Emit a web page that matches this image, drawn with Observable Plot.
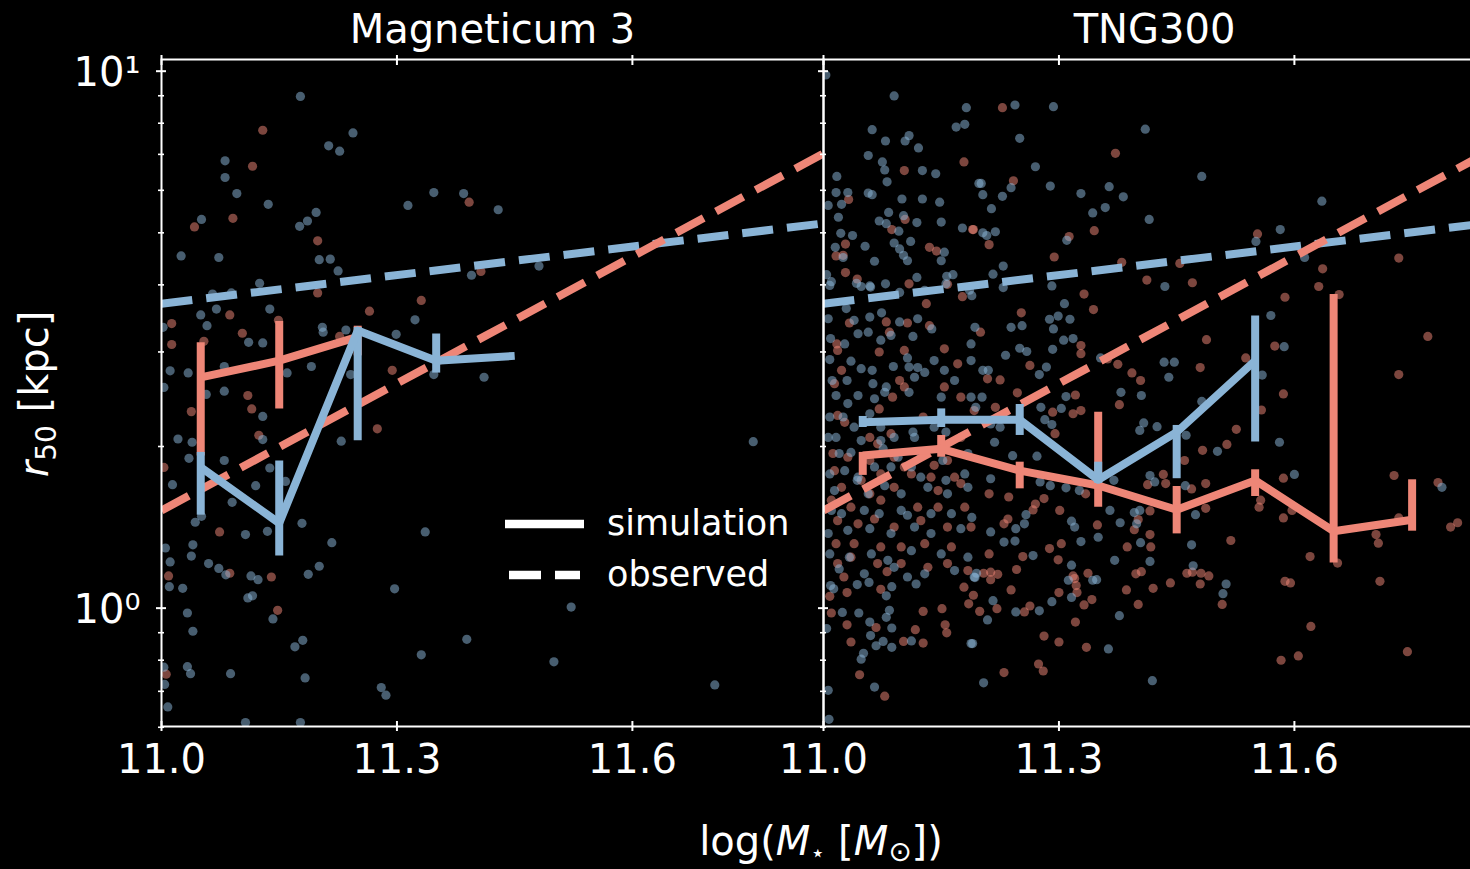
<!DOCTYPE html>
<html><head><meta charset="utf-8">
<script src="https://cdn.jsdelivr.net/npm/d3@7"></script>
<script src="https://cdn.jsdelivr.net/npm/@observablehq/plot@0.6"></script>
<style>
html,body{margin:0;padding:0;background:#000;overflow:hidden;}
#wrap{position:relative;width:1470px;height:869px;overflow:hidden;background:#000;}
#wrap svg{max-width:none !important;}
</style></head><body><div id="wrap"></div>
<script>
// ---------- categories / ticks ----------
const panels = ["Magneticum 3", "TNG300"];
const groups = ["quiescent", "star-forming"];
const xTicks = [11.0, 11.3, 11.6];
const yMajor = [1, 10];
const yMinor = [0.6, 0.7, 0.8, 0.9, 2, 3, 4, 5, 6, 7, 8, 9];
const yTickLabels = ["10\u2070", "10\u00b9"];

// ---------- observed relations (log M*, r50 kpc) ----------
const obsX = [11.0, 11.85];
const obsBlueR = [3.69, 5.22];
const obsRedR = [1.52, 7.11];

// ---------- simulation medians with error bars ----------
const magRedX = [11.05, 11.15, 11.25];
const magRedMed = [2.69, 2.89, 3.20];
const magRedLo = [1.92, 2.35, 2.95];
const magRedHi = [3.12, 3.42, 3.35];

const magBlueX = [11.05, 11.15, 11.25, 11.35, 11.45];
const magBlueMed = [1.83, 1.44, 3.29, 2.89, 2.95];
const magBlueLo = [1.49, 1.25, 2.05, 2.74, 2.95];
const magBlueHi = [1.95, 1.88, 3.33, 3.24, 2.95];

const tngRedX = [11.05, 11.15, 11.25, 11.35, 11.45, 11.55, 11.65, 11.75];
const tngRedMed = [1.925, 1.98, 1.804, 1.692, 1.525, 1.729, 1.391, 1.461];
const tngRedLo = [1.767, 1.91, 1.668, 1.542, 1.375, 1.614, 1.213, 1.391];
const tngRedHi = [1.95, 2.097, 1.87, 2.317, 1.685, 1.81, 3.84, 1.734];

const tngBlueX = [11.05, 11.15, 11.25, 11.35, 11.45, 11.55];
const tngBlueMed = [2.22, 2.243, 2.243, 1.734, 2.127, 2.89];
const tngBlueLo = [2.17, 2.17, 2.097, 1.707, 1.742, 2.038];
const tngBlueHi = [2.275, 2.35, 2.395, 1.87, 2.189, 3.50];

// ---------- individual galaxies: [log M*, log10 r50] ----------
const magBluePts = [[11.177,.953],[11.244,.885],[11.213,.861],[11.227,.851],[11.081,.833],[11.081,.802],[11.096,.772],[11.136,.752],[11.051,.724],[11.197,.737],[11.186,.721],[11.176,.711],[11.025,.656],[11.073,.653],[11.201,.649],[11.215,.650],[11.225,.628],[11.125,.605],[11.314,.750],[11.347,.774],[11.385,.772],[11.429,.742],[11.395,.620],[11.065,.585],[11.089,.587],[11.050,.546],[11.070,.557],[11.138,.557],[11.058,.526],[11.002,.523],[11.111,.495],[11.129,.494],[11.205,.523],[11.206,.514],[11.235,.518],[11.299,.510],[11.323,.537],[11.011,.442],[11.034,.438],[11.003,.411],[11.080,.450],[11.160,.438],[11.191,.450],[11.241,.435],[11.347,.435],[11.411,.430],[11.057,.398],[11.080,.404],[11.129,.357],[11.021,.315],[11.039,.309],[11.129,.314],[11.229,.311],[11.035,.279],[11.080,.275],[11.138,.261],[11.158,.236],[11.014,.230],[11.120,.228],[11.090,.197],[11.051,.171],[11.043,.160],[11.179,.158],[11.107,.137],[11.135,.143],[11.217,.122],[11.336,.142],[11.005,.112],[11.040,.118],[11.038,.097],[11.060,.083],[11.073,.074],[11.082,.062],[11.114,.060],[11.123,.053],[11.011,.086],[11.187,.063],[11.201,.078],[11.010,.040],[11.027,.037],[11.110,.019],[11.116,.023],[11.297,.036],[11.033,-.009],[11.040,-.043],[11.142,-.020],[11.170,-.072],[11.180,-.060],[11.389,-.058],[11.331,-.087],[11.033,-.109],[11.037,-.122],[11.088,-.122],[11.183,-.130],[11.280,-.148],[11.286,-.162],[11.004,-.142],[11.003,-.110],[11.008,-.184],[11.107,-.213],[11.177,-.213],[11.481,.637],[11.754,.310],[11.522,.002],[11.500,-.100],[11.705,-.143]];

const magRedPts = [[11.129,.890],[11.116,.823],[11.042,.710],[11.091,.726],[11.199,.684],[11.392,.756],[11.407,.627],[11.199,.587],[11.331,.573],[11.013,.530],[11.013,.491],[11.054,.497],[11.087,.546],[11.103,.512],[11.149,.536],[11.265,.553],[11.227,.506],[11.110,.396],[11.115,.371],[11.038,.366],[11.124,.322],[11.275,.334],[11.294,.443],[11.003,.262],[11.074,.142],[11.087,.065],[11.140,.058],[11.009,.060],[11.148,-.004],[11.006,-.123]];

const tngBluePts = [[11.003,.993],[11.090,.954],[11.182,.932],[11.169,.896],[11.180,.901],[11.062,.891],[11.109,.880],[11.079,.870],[11.104,.870],[11.121,.857],[11.057,.843],[11.075,.831],[11.078,.816],[11.126,.815],[11.143,.809],[11.017,.804],[11.081,.794],[11.198,.791],[11.016,.774],[11.031,.774],[11.057,.773],[11.062,.770],[11.100,.762],[11.126,.762],[11.148,.756],[11.006,.750],[11.023,.752],[11.083,.737],[11.102,.731],[11.019,.728],[11.071,.721],[11.080,.716],[11.119,.718],[11.150,.719],[11.096,.702],[11.177,.708],[11.022,.698],[11.037,.694],[11.090,.680],[11.111,.683],[11.015,.672],[11.053,.674],[11.097,.669],[11.102,.657],[11.107,.647],[11.065,.646],[11.150,.647],[11.154,.663],[11.025,.653],[11.004,.621],[11.010,.608],[11.119,.616],[11.048,.599],[11.059,.600],[11.157,.618],[11.165,.621],[11.189,.582],
[11.244,.937],[11.293,.934],[11.250,.875],[11.270,.822],[11.410,.892],[11.482,.804],[11.201,.791],[11.203,.770],[11.228,.767],[11.239,.783],[11.289,.786],[11.328,.772],[11.364,.785],[11.382,.766],[11.214,.744],[11.343,.736],[11.359,.746],[11.415,.724],[11.203,.699],[11.219,.701],[11.208,.694],[11.310,.685],[11.635,.758],[11.582,.705],[11.551,.683],[11.613,.653],[11.229,.637],[11.216,.622],[11.291,.600],[11.229,.597],[11.435,.599],
[11.307,.567],[11.299,.544],[11.288,.538],[11.314,.538],[11.239,.523],[11.253,.526],[11.293,.520],[11.306,.499],[11.318,.502],[11.250,.484],[11.259,.478],[11.292,.482],[11.232,.471],[11.353,.466],[11.434,.458],[11.447,.458],[11.440,.430],[11.570,.545],[11.587,.487],[11.559,.434],[11.379,.402],[11.405,.396],[11.309,.394],[11.277,.374],[11.303,.372],[11.282,.351],[11.291,.342],[11.408,.345],[11.403,.331],[11.425,.338],[11.482,.385],[11.462,.322],[11.502,.292],[11.581,.309],[11.600,.249],[11.416,.247],[11.422,.235],[11.370,.238],[11.276,.235],[11.289,.228],[11.309,.224],[11.326,.219],[11.365,.182],[11.378,.159],[11.399,.157],[11.396,.178],[11.403,.182],[11.316,.162],[11.320,.151],[11.258,.174],[11.256,.157],[11.245,.148],[11.272,.283],[11.241,.284],[11.461,.228],[11.474,.174],[11.350,.132],[11.371,.089],[11.416,.087],[11.469,.118],[11.404,.122],[11.328,.124],[11.316,.080],[11.267,.098],[11.244,.125],[11.230,.123],[11.788,.225],[11.213,.142],[11.213,.241],[11.202,.393],[11.194,.374],[11.193,.523],[11.203,.443],[11.210,.443],[11.213,.343],[11.218,.309],[11.225,.337],[11.275,.435],[11.284,.449],
[11.195,.065],[11.193,.057],[11.312,.052],[11.343,.052],[11.348,.053],[11.513,.045],[11.509,.027],[11.471,.079],[11.216,.014],[11.209,-.022],[11.245,-.007],[11.275,-.005],[11.291,.012],[11.316,.020],[11.377,-.014],[11.190,-.066],[11.363,-.076],[11.204,-.139],[11.419,-.135],
[11.008,.601],[11.042,.605],[11.060,.598],[11.079,.604],[11.097,.588],[11.129,.592],[11.156,.604],[11.186,.592],[11.006,.539],[11.029,.558],[11.039,.536],[11.059,.542],[11.074,.550],[11.097,.533],[11.120,.539],[11.044,.511],[11.057,.514],[11.009,.502],[11.027,.492],[11.073,.499],[11.086,.508],[11.114,.506],[11.138,.520],[11.188,.492],[11.008,.463],[11.035,.460],[11.048,.446],[11.062,.443],[11.089,.450],[11.107,.466],[11.109,.449],[11.120,.448],[11.141,.461],[11.154,.443],[11.188,.461],[11.011,.424],[11.030,.424],[11.063,.418],[11.080,.412],[11.116,.430],[11.129,.439],[11.167,.424],[11.016,.396],[11.031,.381],[11.044,.396],[11.065,.390],[11.078,.402],[11.109,.402],[11.150,.393],[11.188,.393],[11.008,.356],[11.025,.356],[11.039,.337],[11.059,.362],[11.073,.337],[11.114,.328],[11.141,.337],[11.006,.318],[11.016,.318],[11.048,.312],[11.073,.312],[11.090,.318],[11.116,.318],[11.156,.328],[11.020,.288],[11.035,.290],[11.076,.297],[11.095,.281],[11.124,.288],[11.152,.275],[11.184,.288],[11.008,.250],[11.027,.256],[11.044,.244],[11.065,.263],[11.086,.263],[11.112,.263],[11.124,.244],[11.156,.238],[11.180,.250],[11.014,.219],[11.043,.238],[11.057,.213],[11.078,.228],[11.099,.213],[11.133,.225],[11.158,.213],[11.184,.225],[11.010,.182],[11.023,.176],[11.052,.182],[11.071,.176],[11.099,.182],[11.107,.173],[11.137,.176],[11.163,.176],[11.189,.169],[11.006,.139],[11.031,.145],[11.059,.148],[11.086,.139],[11.116,.151],[11.137,.139],[11.175,.148],[11.008,.101],[11.033,.095],[11.061,.101],[11.082,.089],[11.112,.107],[11.150,.101],[11.184,.095],[11.020,.073],[11.052,.064],[11.090,.076],[11.129,.064],[11.167,.070],
[11.009,.042],[11.013,.036],[11.043,.044],[11.058,.048],[11.087,.040],[11.107,.058],[11.118,.045],[11.080,.023],[11.024,-.008],[11.045,-.009],[11.084,-.004],[11.080,-.017],[11.059,-.026],[11.087,-.037],[11.060,-.051],[11.076,-.062],[11.067,-.070],[11.087,-.073],[11.004,-.038],[11.051,-.084],[11.048,-.095],[11.112,-.061],[11.065,-.147],[11.006,-.153],[11.007,-.207],[11.188,-.066],[11.192,.058]];

const tngRedPts = [[11.103,.815],[11.179,.831],[11.032,.761],[11.104,.724],[11.087,.705],[11.190,.705],[11.028,.678],[11.016,.656],[11.025,.657],[11.135,.672],[11.144,.665],[11.028,.625],[11.043,.613],[11.109,.604],[11.158,.603],[11.177,.580],
[11.228,.932],[11.372,.847],[11.242,.796],[11.191,.705],[11.211,.677],[11.313,.692],[11.345,.703],[11.294,.654],[11.380,.644],[11.454,.642],[11.412,.611],[11.470,.606],[11.332,.585],[11.553,.697],[11.636,.632],[11.631,.599],[11.733,.652],[11.657,.584],[11.588,.579],
[11.252,.550],[11.344,.556],[11.200,.514],[11.328,.489],[11.328,.474],[11.321,.397],[11.263,.452],[11.362,.464],[11.375,.454],[11.393,.438],[11.404,.424],[11.480,.448],[11.488,.500],[11.575,.488],[11.586,.399],[11.538,.466],[11.558,.369],[11.526,.333],[11.514,.305],[11.483,.294],[11.377,.379],[11.328,.368],[11.318,.362],[11.292,.365],[11.295,.325],[11.247,.401],[11.225,.425],[11.209,.427],[11.219,.374],[11.460,.275],[11.433,.249],[11.436,.232],[11.413,.230],[11.487,.232],[11.469,.222],[11.487,.186],[11.416,.181],[11.401,.165],[11.396,.146],[11.416,.137],[11.417,.114],[11.387,.114],[11.349,.155],[11.303,.120],[11.288,.111],[11.299,.090],[11.254,.096],[11.211,.101],[11.230,.157],[11.235,.166],[11.211,.213],[11.236,.207],[11.270,.194],[11.281,.204],[11.301,.182],[11.267,.183],[11.334,.213],[11.586,.168],[11.597,.182],[11.555,.188],[11.557,.201],[11.586,.242],[11.727,.247],[11.733,.435],[11.770,.506],[11.783,.234],[11.799,.151],[11.808,.159],[11.620,.096],[11.655,.084],[11.519,.126],[11.704,.137],[11.707,.121],[11.733,.168],[11.470,.067],[11.481,.065],[11.491,.060],[11.398,.064],[11.405,.068],[11.318,.060],[11.337,.065],[11.213,.067],[11.222,.063],
[11.204,.065],[11.213,.053],[11.246,.072],[11.191,.024],[11.199,-.006],[11.221,-.001],[11.239,.034],[11.256,-.007],[11.263,.004],[11.300,.029],[11.323,.029],[11.320,.055],[11.322,.042],[11.332,.006],[11.342,.016],[11.321,-.026],[11.386,.034],[11.401,.007],[11.420,.037],[11.442,.047],[11.463,.065],[11.480,.045],[11.508,.007],[11.281,-.052],[11.300,-.063],[11.335,-.073],[11.230,-.120],[11.274,-.104],[11.280,-.117],[11.588,.050],[11.595,.047],[11.709,.050],[11.621,-.034],[11.583,-.097],[11.605,-.089],[11.744,-.081],
[11.033,.531],[11.080,.533],[11.084,.514],[11.107,.531],[11.131,.567],[11.135,.526],[11.017,.492],[11.018,.480],[11.103,.480],[11.154,.483],[11.171,.455],[11.023,.443],[11.071,.477],[11.097,.424],[11.154,.412],[11.175,.393],[11.014,.418],[11.088,.393],[11.103,.412],[11.018,.359],[11.027,.346],[11.071,.371],[11.127,.356],[11.192,.368],[11.059,.318],[11.069,.306],[11.086,.325],[11.175,.318],[11.012,.288],[11.031,.281],[11.059,.275],[11.090,.281],[11.103,.263],[11.141,.266],[11.158,.275],[11.014,.256],[11.048,.238],[11.073,.250],[11.112,.250],[11.137,.244],[11.167,.244],[11.023,.225],[11.059,.213],[11.090,.225],[11.146,.219],[11.175,.232],[11.010,.201],[11.035,.188],[11.073,.201],[11.120,.188],[11.146,.188],[11.180,.188],[11.018,.163],[11.044,.157],[11.065,.166],[11.090,.151],[11.124,.163],[11.158,.151],[11.188,.151],[11.016,.120],[11.039,.120],[11.073,.114],[11.099,.114],[11.129,.120],[11.163,.114],[11.018,.083],[11.035,.095],[11.069,.083],[11.099,.083],[11.133,.076],[11.158,.083],[11.184,.070],
[11.026,.058],[11.030,.029],[11.073,.035],[11.081,.068],[11.008,.022],[11.010,-.009],[11.030,-.031],[11.067,-.036],[11.117,-.040],[11.127,-.006],[11.102,-.062],[11.127,-.065],[11.151,-.001],[11.155,-.031],[11.157,-.046],[11.179,.039],[11.185,.008],[11.046,-.124],[11.078,-.164],[11.035,-.063]];

// ---------- build tables ----------
const [Q, SF] = groups;
const pts = (arr, panel, group) => arr.map(([x, lr]) => ({panel, group, mass: x, size: Math.pow(10, lr)}));
const points = [
  ...pts(magRedPts, panels[0], Q), ...pts(tngRedPts, panels[1], Q),
  ...pts(magBluePts, panels[0], SF), ...pts(tngBluePts, panels[1], SF)
];
const obsBlue = [], obsRed = [];
for (const panel of panels) {
  obsX.forEach((x, i) => obsBlue.push({panel, group: SF, mass: x, size: obsBlueR[i]}));
  obsX.forEach((x, i) => obsRed.push({panel, group: Q, mass: x, size: obsRedR[i]}));
}
const sim = (X, M, L, H, panel, group) => X.map((x, i) => ({panel, group, mass: x, size: M[i], lo: L[i], hi: H[i]}));
const simRed = [...sim(magRedX, magRedMed, magRedLo, magRedHi, panels[0], Q), ...sim(tngRedX, tngRedMed, tngRedLo, tngRedHi, panels[1], Q)];
const simBlue = [...sim(magBlueX, magBlueMed, magBlueLo, magBlueHi, panels[0], SF), ...sim(tngBlueX, tngBlueMed, tngBlueLo, tngBlueHi, panels[1], SF)];

const RED = "#ee8677", BLUE = "#8ab4d6";
const LW = 8;

const chart = Plot.plot({
  width: 1485, height: 869,
  marginTop: 59, marginBottom: 143, marginLeft: 160, marginRight: 0,
  style: {background: "#000", color: "#fff", fontFamily: "DejaVu Sans", maxWidth: "none", overflow: "visible"},
  fx: {domain: panels, padding: 0, label: null},
  x: {domain: [11, 11.8435]},
  y: {type: "log", domain: [0.602, 10.514]},
  color: {type: "ordinal", domain: groups, range: [RED, BLUE]},
  marks: [
    Plot.dot(points, {fx: "panel", x: "mass", y: "size", r: 4.6, fill: "group", fillOpacity: 0.52, stroke: "none", clip: true}),
    Plot.line(obsBlue, {fx: "panel", x: "mass", y: "size", stroke: "group", strokeWidth: LW, strokeDasharray: "31,14", strokeLinecap: "butt", clip: true}),
    Plot.line(obsRed, {fx: "panel", x: "mass", y: "size", stroke: "group", strokeWidth: LW, strokeDasharray: "31,14", strokeLinecap: "butt", clip: true}),
    Plot.ruleX(simRed, {fx: "panel", x: "mass", y1: "lo", y2: "hi", stroke: "group", strokeWidth: LW}),
    Plot.line(simRed, {fx: "panel", x: "mass", y: "size", stroke: "group", strokeWidth: LW, strokeLinecap: "butt"}),
    Plot.ruleX(simBlue, {fx: "panel", x: "mass", y1: "lo", y2: "hi", stroke: "group", strokeWidth: LW}),
    Plot.line(simBlue, {fx: "panel", x: "mass", y: "size", stroke: "group", strokeWidth: LW, strokeLinecap: "butt"}),
    Plot.frame({stroke: "#fff", strokeWidth: 2}),
    // x ticks (in-out), bottom and top
    Plot.axisX(xTicks, {anchor: "bottom", tickSize: 10, dy: -5, fill: "none", stroke: "#fff", strokeWidth: 2, label: null}),
    Plot.axisX(xTicks, {anchor: "top", tickSize: 10, dy: 5, fill: "none", stroke: "#fff", strokeWidth: 2, label: null}),
    Plot.axisX(xTicks, {anchor: "bottom", tickSize: 0, tickPadding: 18, stroke: "none", fill: "#fff", fontSize: 40, tickFormat: d3.format(".1f"), label: null}),
    // y ticks on both panels
    Plot.axisY(yMajor, {anchor: "left", tickSize: 10, dx: 5, fill: "none", stroke: "#fff", strokeWidth: 2, label: null, facetAnchor: null}),
    Plot.axisY(yMinor, {anchor: "left", tickSize: 6, dx: 3, fill: "none", stroke: "#fff", strokeWidth: 1.6, label: null, facetAnchor: null}),
    Plot.axisY(yMajor, {anchor: "left", tickSize: 0, tickPadding: 21, dy: 2, stroke: "none", fill: "#fff", fontSize: 40, tickFormat: d => yTickLabels[yMajor.indexOf(d)], label: null}),
    Plot.axisFx({anchor: "top", tickSize: 0, tickPadding: 17, fontSize: 40, fill: "#fff", label: null})
  ]
});
const wrap = document.getElementById("wrap");
wrap.appendChild(chart);

// ---------- overlay: axis titles and legend ----------
const ov = d3.select(wrap).append("svg")
  .attr("width", 1470).attr("height", 869)
  .style("position", "absolute").style("left", "0px").style("top", "0px")
  .style("font-family", "DejaVu Sans").attr("fill", "#fff");

const yl = ov.append("text").attr("transform", "translate(48,394) rotate(-90)")
  .attr("text-anchor", "middle").attr("font-size", 40).attr("fill", "#fff");
yl.append("tspan").attr("font-style", "italic").text("r");
yl.append("tspan").attr("font-size", 28).attr("dy", 8).text("50");
yl.append("tspan").attr("dy", -8).text(" [kpc]");

const xl = ov.append("text").attr("x", 821).attr("y", 855)
  .attr("text-anchor", "middle").attr("font-size", 40).attr("fill", "#fff");
xl.append("tspan").text("log(");
xl.append("tspan").attr("font-style", "italic").text("M");
xl.append("tspan").attr("font-size", 24).attr("dy", 6).text("\u22c6");
xl.append("tspan").attr("dy", -6).text(" [");
xl.append("tspan").attr("font-style", "italic").text("M");
xl.append("tspan").attr("font-size", 28).attr("dy", 6).text("\u2299");
xl.append("tspan").attr("dy", -6).text("])");

const legendItems = [{label: "simulation", dash: null}, {label: "observed", dash: "32,14"}];
legendItems.forEach((it, i) => {
  const yy = 524 + i * 51;
  const ln = ov.append("line").attr("x1", it.dash ? 509 : 505).attr("x2", it.dash ? 580 : 584)
    .attr("y1", yy).attr("y2", yy).attr("stroke", "#fff").attr("stroke-width", 8.5);
  if (it.dash) ln.attr("stroke-dasharray", it.dash);
  ov.append("text").attr("x", 607).attr("y", yy + 11).attr("font-size", 35).attr("fill", "#fff").text(it.label);
});
</script></body></html>
